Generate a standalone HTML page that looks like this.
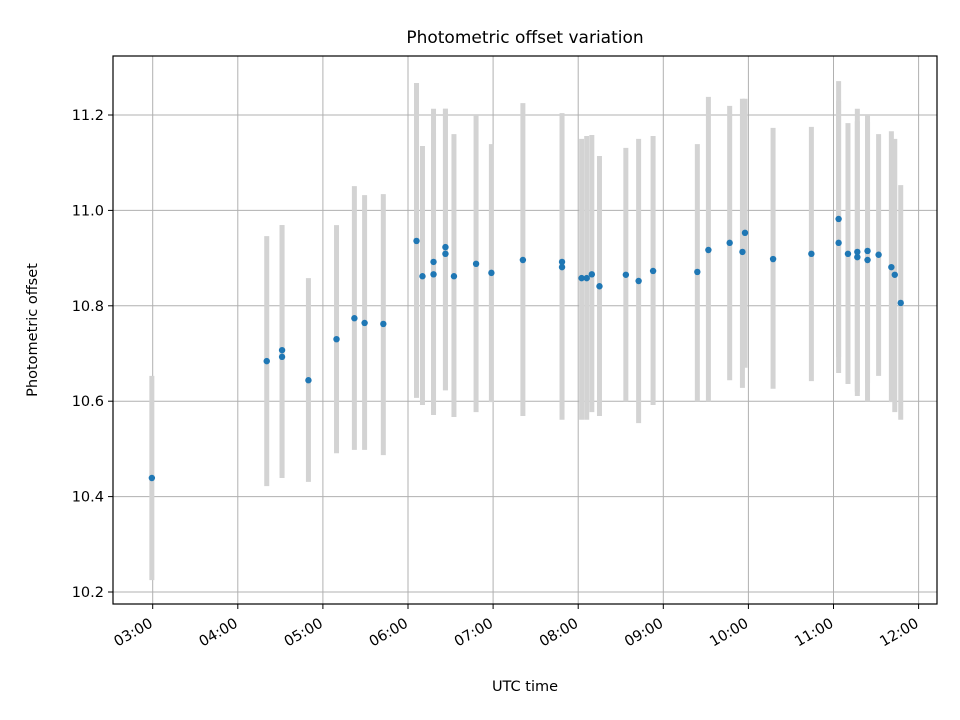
<!DOCTYPE html>
<html><head><meta charset="utf-8"><style>
body{margin:0;background:#fff;}
svg{display:block;font-family:"DejaVu Sans","Liberation Sans",sans-serif;}
</style></head><body>
<svg id="chart" width="960" height="720" viewBox="0 0 960 720" xmlns="http://www.w3.org/2000/svg">
<rect width="960" height="720" fill="#fff"/>
<g id="grid"></g>
<g id="bars"></g>
<g id="pts"></g>
<rect x="113" y="56" width="824" height="548" fill="none" stroke="#000" stroke-width="1.2"/>
<g id="ticks"></g>
<text x="525" y="43" text-anchor="middle" font-size="17">Photometric offset variation</text>
<text x="525" y="691" text-anchor="middle" font-size="14.5">UTC time</text>
<text transform="translate(37,330) rotate(-90)" text-anchor="middle" font-size="14.5">Photometric offset</text>
</svg>
<script>
const times=[2.99,4.34,4.52,4.52,4.83,5.16,5.37,5.49,5.71,6.10,6.17,6.30,6.30,6.44,6.44,6.54,6.80,6.98,7.35,7.81,7.81,8.04,8.10,8.16,8.25,8.56,8.71,8.88,9.40,9.53,9.78,9.93,9.96,10.29,10.74,11.06,11.06,11.17,11.28,11.28,11.40,11.40,11.53,11.68,11.72,11.79];
const values=[10.439,10.684,10.707,10.693,10.644,10.730,10.774,10.764,10.762,10.936,10.862,10.866,10.892,10.923,10.909,10.862,10.888,10.869,10.896,10.881,10.892,10.858,10.858,10.866,10.841,10.865,10.852,10.873,10.871,10.917,10.932,10.913,10.953,10.898,10.909,10.982,10.932,10.909,10.913,10.902,10.915,10.896,10.907,10.881,10.865,10.806];
const lowers=[10.225,10.422,10.445,10.439,10.431,10.491,10.498,10.498,10.487,10.607,10.592,10.571,10.575,10.623,10.623,10.567,10.577,10.598,10.569,10.561,10.586,10.561,10.561,10.577,10.569,10.600,10.554,10.592,10.600,10.600,10.644,10.628,10.670,10.626,10.642,10.693,10.659,10.636,10.611,10.620,10.638,10.600,10.653,10.598,10.577,10.561];
const uppers=[10.653,10.946,10.969,10.969,10.858,10.969,11.051,11.032,11.034,11.267,11.135,11.162,11.213,11.213,11.213,11.160,11.200,11.139,11.225,11.204,11.200,11.150,11.156,11.158,11.114,11.131,11.150,11.156,11.139,11.238,11.219,11.234,11.234,11.173,11.175,11.271,11.230,11.183,11.213,11.187,11.200,11.185,11.160,11.166,11.150,11.053];
const yTicks=[10.2,10.4,10.6,10.8,11.0,11.2];
const xTicks=[3,4,5,6,7,8,9,10,11,12];
const xLabels=["03:00","04:00","05:00","06:00","07:00","08:00","09:00","10:00","11:00","12:00"];
const NS="http://www.w3.org/2000/svg";
const X=h=>152.7+(h-3)*85.1;
const Y=v=>592-(v-10.2)*477;
function mk(tag,attrs,parent){const e=document.createElementNS(NS,tag);for(const k in attrs)e.setAttribute(k,attrs[k]);parent.appendChild(e);return e;}
const grid=document.getElementById('grid'),ticks=document.getElementById('ticks'),bars=document.getElementById('bars'),pts=document.getElementById('pts');
yTicks.forEach(v=>{
  const y=Y(v);
  const g=mk('line',{x1:113,x2:937,y1:y,y2:y,stroke:'#b0b0b0','stroke-width':1},grid);
  
  
  const t=mk('line',{x1:108,x2:113,y1:y,y2:y,stroke:'#000','stroke-width':1},ticks);
  
  
  const l=mk('text',{x:104,y:y+5,'text-anchor':'end','font-size':14.5},ticks);
  l.textContent=v.toFixed(1);
  
  
});
xTicks.forEach((h,i)=>{
  const x=X(h);
  const g=mk('line',{x1:x,x2:x,y1:56,y2:604,stroke:'#b0b0b0','stroke-width':1},grid);
  
  
  const t=mk('line',{x1:x,x2:x,y1:604,y2:609,stroke:'#000','stroke-width':1},ticks);
  
  
  const l=mk('text',{'text-anchor':'end','font-size':14.5,transform:`translate(${x+1},${626}) rotate(-30)`},ticks);
  l.textContent=xLabels[i];
  
  
});
times.forEach((h,i)=>{
  const x=X(h);
  const b=mk('line',{x1:x,x2:x,y1:Y(lowers[i]),y2:Y(uppers[i]),stroke:'#d3d3d3','stroke-width':5},bars);
  
  
});
times.forEach((h,i)=>{
  const c=mk('circle',{cx:X(h),cy:Y(values[i]),r:3.2,fill:'#1f77b4'},pts);
  
  
});
</script>
</body></html>
